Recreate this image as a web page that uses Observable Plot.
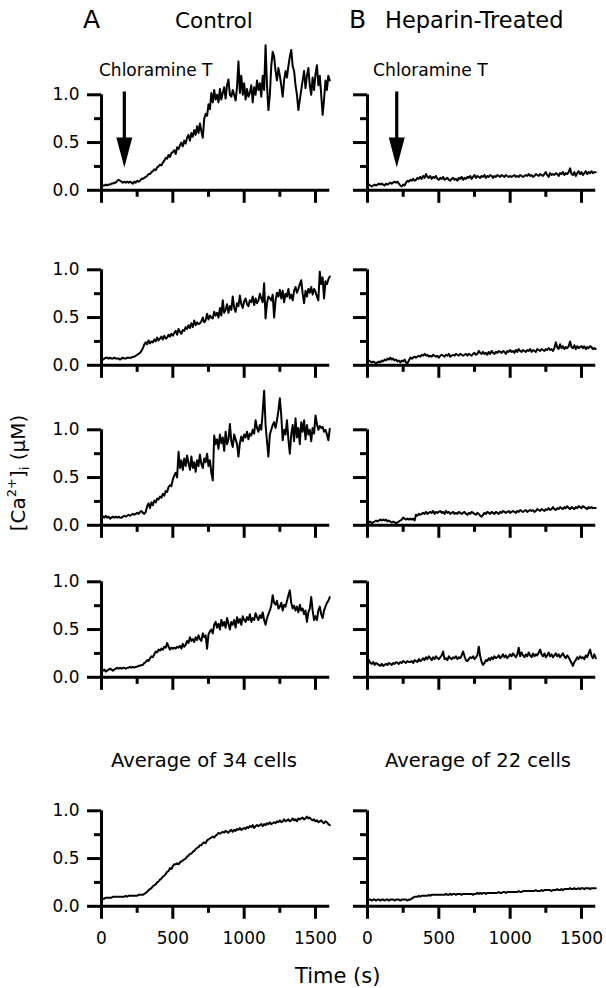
<!DOCTYPE html>
<html>
<head>
<meta charset="utf-8">
<script src="https://cdn.jsdelivr.net/npm/d3@7"></script>
<script src="https://cdn.jsdelivr.net/npm/@observablehq/plot@0.6"></script>
<style>
  body { margin: 0; background: #fff; }
  #fig { position: relative; width: 606px; height: 988px; overflow: hidden; background: #fff; font-family: "DejaVu Sans", sans-serif; color: #000; }
  #fig svg.plotpanel { position: absolute; overflow: visible; background: transparent; }
  #overlay { position: absolute; left: 0; top: 0; pointer-events: none; }
</style>
</head>
<body>
<div id="fig"></div>
<script>
// ---------------- DATA ----------------
const sampleStep = 10;            // seconds between samples (0 … 1600 s)
const xTicksMajor = [0, 500, 1000, 1500];
const xTicksMinor = [250, 750, 1250];
const yTicksMajor = [0, 0.5, 1.0];
const yTicksMinor = [0.25, 0.75];

const columnTitles = ["Control", "Heparin-Treated"];
const columnLetters = ["A", "B"];
const averageTitles = ["Average of 34 cells", "Average of 22 cells"];
const stimulusLabel = "Chloramine T";
const stimulusTime = [160, 205];      // s, arrow position per column
const stimulusArrowTip = 0.24;        // µM, arrow tip level

// Control (A) single cells, [Ca2+]i in µM
const ctrlCell1 = [
 0.04,0.05,0.05,0.06,0.05,0.06,0.06,0.07,0.07,0.08,0.08,
 0.10,0.11,0.10,0.09,0.08,0.09,0.08,0.09,0.08,0.09,
 0.08,0.07,0.09,0.08,0.10,0.09,0.10,0.12,0.12,0.13,
 0.14,0.15,0.17,0.17,0.19,0.20,0.22,0.21,0.24,0.25,
 0.27,0.26,0.29,0.31,0.34,0.33,0.37,0.35,0.39,0.40,
 0.42,0.38,0.45,0.43,0.47,0.50,0.46,0.52,0.49,0.55,
 0.58,0.52,0.60,0.56,0.63,0.58,0.67,0.60,0.70,0.62,
 0.55,0.75,0.80,0.78,0.90,0.85,1.02,0.92,1.05,0.95,
 1.00,0.92,1.06,0.95,1.02,1.08,0.96,1.10,1.16,1.00,
 0.98,1.05,1.00,0.94,1.08,1.35,1.02,1.20,1.00,1.12,
 0.95,1.06,0.98,1.02,1.10,0.92,1.08,1.00,1.15,1.05,
 1.12,0.98,1.20,1.05,1.52,1.10,0.84,1.00,1.30,1.45,
 1.40,1.25,1.15,1.28,1.20,1.10,0.98,1.15,1.25,1.18,
 1.30,1.40,1.47,1.30,1.25,1.10,1.00,0.84,0.95,1.05,
 1.15,1.25,1.07,1.20,1.28,1.10,1.00,1.18,1.05,1.22,
 1.31,1.10,1.20,1.00,0.79,0.95,1.15,1.05,1.20,1.15
];
const ctrlCell2 = [
 0.05,0.06,0.07,0.08,0.08,0.07,0.08,0.07,0.07,0.08,0.07,
 0.07,0.07,0.06,0.07,0.08,0.07,0.07,0.08,0.08,0.08,
 0.08,0.09,0.09,0.10,0.11,0.12,0.13,0.15,0.18,0.22,
 0.24,0.22,0.26,0.23,0.25,0.24,0.27,0.25,0.29,0.26,
 0.28,0.30,0.27,0.31,0.28,0.29,0.32,0.30,0.33,0.31,
 0.34,0.36,0.32,0.38,0.35,0.33,0.37,0.36,0.40,0.38,
 0.42,0.39,0.44,0.40,0.47,0.42,0.45,0.43,0.44,0.46,
 0.50,0.45,0.47,0.54,0.48,0.52,0.50,0.49,0.56,0.52,
 0.55,0.50,0.60,0.52,0.68,0.55,0.58,0.64,0.55,0.62,
 0.58,0.72,0.60,0.56,0.65,0.62,0.73,0.64,0.60,0.67,
 0.70,0.64,0.62,0.68,0.66,0.72,0.63,0.70,0.65,0.68,
 0.75,0.70,0.66,0.86,0.49,0.65,0.72,0.70,0.68,0.74,
 0.50,0.68,0.76,0.72,0.79,0.70,0.78,0.66,0.75,0.72,
 0.80,0.70,0.74,0.68,0.78,0.82,0.76,0.80,0.85,0.89,
 0.75,0.65,0.78,0.72,0.80,0.76,0.82,0.74,0.80,0.77,
 0.72,0.68,0.98,0.85,0.92,0.70,0.88,0.85,0.90,0.93
];
const ctrlCell3 = [
 0.12,0.09,0.08,0.10,0.08,0.09,0.07,0.08,0.09,0.08,0.09,
 0.08,0.09,0.08,0.08,0.09,0.10,0.09,0.10,0.11,0.10,
 0.11,0.12,0.11,0.12,0.13,0.12,0.14,0.15,0.13,0.12,
 0.14,0.20,0.23,0.18,0.24,0.21,0.26,0.24,0.28,0.27,
 0.30,0.29,0.33,0.31,0.36,0.35,0.40,0.42,0.41,0.48,
 0.52,0.55,0.50,0.77,0.60,0.68,0.58,0.70,0.62,0.73,
 0.65,0.58,0.72,0.60,0.66,0.56,0.68,0.62,0.74,0.64,
 0.60,0.70,0.66,0.75,0.62,0.68,0.55,0.47,0.94,0.85,
 0.90,0.80,0.95,0.86,0.92,0.78,0.98,0.85,0.90,1.06,
 0.88,0.82,0.95,0.90,0.85,0.72,0.86,0.93,0.88,0.95,
 0.92,0.98,0.90,0.96,0.94,1.00,0.96,1.10,1.02,0.98,
 1.05,1.00,1.19,1.41,1.05,0.88,0.72,0.95,1.00,1.05,
 1.08,1.02,1.10,1.20,1.33,1.15,0.89,1.00,0.95,1.10,
 0.90,0.75,0.95,1.05,0.88,1.12,0.92,1.02,0.85,1.08,
 0.98,1.10,0.90,1.05,0.95,1.00,0.88,1.02,0.96,1.15,
 1.06,1.00,1.04,1.02,1.03,0.98,1.00,0.95,0.89,1.01
];
const ctrlCell4 = [
 0.08,0.07,0.08,0.06,0.07,0.08,0.09,0.08,0.07,0.08,0.09,
 0.10,0.09,0.10,0.09,0.10,0.10,0.09,0.10,0.10,0.11,
 0.10,0.11,0.10,0.11,0.11,0.12,0.12,0.13,0.13,0.15,
 0.16,0.18,0.17,0.20,0.22,0.21,0.24,0.27,0.26,0.29,
 0.28,0.30,0.29,0.32,0.31,0.36,0.32,0.29,0.31,0.30,
 0.31,0.30,0.32,0.31,0.33,0.30,0.35,0.32,0.34,0.38,
 0.36,0.42,0.38,0.40,0.37,0.42,0.39,0.44,0.40,0.38,
 0.46,0.42,0.44,0.30,0.45,0.48,0.50,0.46,0.55,0.58,
 0.52,0.56,0.50,0.60,0.54,0.58,0.52,0.62,0.56,0.50,
 0.58,0.55,0.60,0.52,0.63,0.57,0.61,0.55,0.64,0.60,
 0.58,0.63,0.60,0.66,0.58,0.62,0.60,0.67,0.63,0.60,
 0.65,0.62,0.68,0.60,0.55,0.62,0.66,0.70,0.75,0.86,
 0.78,0.76,0.80,0.72,0.74,0.78,0.70,0.76,0.74,0.80,
 0.86,0.91,0.78,0.72,0.75,0.70,0.74,0.68,0.76,0.70,
 0.72,0.66,0.70,0.58,0.68,0.72,0.84,0.70,0.60,0.64,
 0.60,0.70,0.74,0.66,0.62,0.70,0.74,0.78,0.80,0.84
];
const ctrlAverage = [
 0.08,0.08,0.08,0.09,0.09,0.09,0.09,0.09,0.10,0.10,0.10,
 0.10,0.10,0.10,0.10,0.10,0.10,0.11,0.10,0.11,0.11,
 0.11,0.11,0.11,0.11,0.11,0.12,0.12,0.12,0.12,0.13,
 0.14,0.15,0.17,0.18,0.19,0.21,0.22,0.23,0.25,0.26,
 0.28,0.29,0.31,0.32,0.34,0.36,0.37,0.40,0.39,0.42,
 0.44,0.44,0.45,0.44,0.46,0.47,0.48,0.49,0.50,0.52,
 0.53,0.55,0.55,0.57,0.58,0.60,0.61,0.62,0.64,0.64,
 0.66,0.67,0.66,0.69,0.70,0.71,0.72,0.73,0.72,0.74,
 0.75,0.77,0.76,0.77,0.78,0.77,0.79,0.78,0.77,0.79,
 0.80,0.78,0.80,0.79,0.81,0.80,0.82,0.80,0.81,0.82,
 0.81,0.83,0.82,0.84,0.83,0.85,0.82,0.84,0.85,0.84,
 0.85,0.86,0.84,0.86,0.85,0.87,0.86,0.88,0.86,0.87,
 0.88,0.87,0.89,0.88,0.90,0.88,0.89,0.91,0.89,0.90,
 0.91,0.89,0.90,0.92,0.90,0.91,0.89,0.92,0.91,0.92,
 0.93,0.91,0.92,0.94,0.92,0.93,0.91,0.90,0.91,0.89,
 0.90,0.88,0.89,0.90,0.88,0.87,0.89,0.88,0.86,0.85
];

// Heparin-treated (B) single cells
const hepCell1 = [
 0.05,0.06,0.05,0.04,0.05,0.06,0.05,0.06,0.07,0.06,0.07,
 0.06,0.05,0.07,0.06,0.07,0.08,0.07,0.08,0.09,0.08,
 0.09,0.07,0.05,0.04,0.06,0.05,0.08,0.10,0.09,0.11,
 0.10,0.12,0.10,0.11,0.13,0.12,0.14,0.12,0.15,0.13,
 0.17,0.14,0.13,0.15,0.12,0.14,0.13,0.15,0.12,0.11,
 0.13,0.12,0.14,0.11,0.12,0.13,0.11,0.10,0.12,0.13,
 0.11,0.12,0.10,0.13,0.12,0.14,0.11,0.13,0.12,0.14,
 0.13,0.15,0.12,0.14,0.16,0.13,0.15,0.14,0.13,0.15,
 0.14,0.16,0.13,0.15,0.14,0.16,0.15,0.13,0.15,0.14,
 0.16,0.15,0.14,0.16,0.15,0.14,0.16,0.15,0.14,0.15,
 0.14,0.15,0.16,0.14,0.15,0.14,0.16,0.15,0.14,0.15,
 0.16,0.15,0.17,0.15,0.16,0.14,0.15,0.17,0.16,0.15,
 0.17,0.16,0.15,0.17,0.19,0.16,0.14,0.18,0.16,0.17,
 0.16,0.18,0.17,0.15,0.18,0.17,0.19,0.16,0.18,0.17,
 0.19,0.23,0.17,0.16,0.19,0.15,0.18,0.20,0.17,0.19,
 0.16,0.18,0.20,0.17,0.19,0.18,0.20,0.18,0.19,0.19
];
const hepCell2 = [
 0.04,0.05,0.04,0.03,0.04,0.03,0.02,0.03,0.04,0.03,0.05,
 0.04,0.06,0.05,0.07,0.06,0.08,0.06,0.07,0.05,0.06,
 0.04,0.05,0.03,0.05,0.04,0.06,0.03,0.02,0.05,0.08,
 0.07,0.08,0.09,0.08,0.09,0.10,0.09,0.11,0.10,0.12,
 0.10,0.11,0.09,0.10,0.09,0.11,0.10,0.09,0.10,0.08,
 0.10,0.11,0.10,0.09,0.11,0.10,0.12,0.09,0.10,0.11,
 0.10,0.12,0.11,0.10,0.12,0.11,0.10,0.11,0.12,0.10,
 0.12,0.11,0.10,0.12,0.13,0.11,0.12,0.15,0.13,0.12,
 0.14,0.12,0.13,0.11,0.14,0.12,0.15,0.13,0.12,0.14,
 0.13,0.15,0.14,0.13,0.15,0.14,0.12,0.15,0.14,0.16,
 0.14,0.15,0.13,0.16,0.14,0.17,0.15,0.14,0.16,0.15,
 0.14,0.16,0.15,0.17,0.14,0.16,0.15,0.14,0.17,0.16,
 0.15,0.17,0.16,0.15,0.17,0.16,0.18,0.16,0.17,0.15,
 0.18,0.24,0.19,0.17,0.22,0.18,0.20,0.17,0.19,0.18,
 0.20,0.25,0.19,0.18,0.21,0.17,0.20,0.18,0.19,0.20,
 0.18,0.20,0.17,0.19,0.18,0.20,0.19,0.17,0.18,0.17
];
const hepCell3 = [
 0.04,0.03,0.04,0.02,0.03,0.04,0.05,0.04,0.05,0.06,0.05,
 0.06,0.05,0.06,0.04,0.05,0.04,0.03,0.04,0.03,0.02,
 0.03,0.04,0.05,0.06,0.08,0.07,0.06,0.07,0.06,0.07,
 0.06,0.07,0.05,0.11,0.10,0.12,0.11,0.12,0.13,0.12,
 0.14,0.12,0.13,0.14,0.13,0.15,0.12,0.14,0.13,0.14,
 0.15,0.13,0.14,0.12,0.15,0.13,0.14,0.12,0.13,0.14,
 0.12,0.13,0.12,0.14,0.13,0.12,0.13,0.14,0.12,0.11,
 0.13,0.12,0.14,0.13,0.12,0.11,0.13,0.12,0.10,0.09,
 0.11,0.13,0.12,0.14,0.13,0.12,0.14,0.13,0.12,0.14,
 0.13,0.12,0.14,0.13,0.15,0.14,0.13,0.14,0.15,0.13,
 0.14,0.15,0.14,0.13,0.15,0.14,0.16,0.15,0.14,0.15,
 0.16,0.14,0.15,0.16,0.15,0.16,0.14,0.15,0.17,0.16,
 0.15,0.17,0.16,0.15,0.17,0.16,0.18,0.16,0.17,0.19,
 0.17,0.16,0.18,0.17,0.19,0.18,0.17,0.19,0.18,0.20,
 0.18,0.17,0.19,0.18,0.17,0.19,0.18,0.20,0.19,0.18,
 0.20,0.19,0.18,0.17,0.19,0.18,0.19,0.18,0.18,0.18
];
const hepCell4 = [
 0.16,0.18,0.15,0.14,0.16,0.13,0.15,0.14,0.13,0.12,0.14,
 0.12,0.13,0.14,0.13,0.15,0.14,0.13,0.15,0.14,0.16,
 0.15,0.14,0.16,0.15,0.17,0.16,0.15,0.17,0.16,0.16,
 0.17,0.15,0.18,0.17,0.16,0.19,0.17,0.18,0.20,0.18,
 0.21,0.19,0.22,0.20,0.18,0.21,0.19,0.22,0.20,0.19,
 0.21,0.23,0.27,0.19,0.20,0.18,0.22,0.20,0.19,0.21,
 0.20,0.22,0.19,0.21,0.20,0.23,0.27,0.22,0.18,0.17,
 0.19,0.21,0.20,0.22,0.19,0.21,0.23,0.32,0.22,0.16,
 0.13,0.15,0.18,0.17,0.20,0.18,0.21,0.19,0.22,0.20,
 0.21,0.23,0.20,0.22,0.24,0.21,0.23,0.20,0.22,0.24,
 0.22,0.25,0.23,0.21,0.24,0.31,0.22,0.26,0.23,0.21,
 0.24,0.22,0.26,0.23,0.21,0.25,0.22,0.24,0.23,0.26,
 0.29,0.24,0.22,0.25,0.21,0.23,0.26,0.22,0.24,0.21,
 0.23,0.25,0.22,0.24,0.21,0.23,0.25,0.22,0.20,0.23,
 0.21,0.18,0.15,0.12,0.16,0.18,0.21,0.19,0.22,0.20,
 0.21,0.19,0.23,0.21,0.25,0.29,0.23,0.20,0.24,0.20
];
const hepAverage = [
 0.07,0.07,0.07,0.06,0.07,0.07,0.06,0.07,0.07,0.06,0.07,
 0.07,0.06,0.07,0.07,0.06,0.07,0.07,0.07,0.06,0.07,
 0.07,0.07,0.06,0.07,0.07,0.07,0.07,0.06,0.07,0.07,
 0.08,0.09,0.10,0.10,0.10,0.11,0.10,0.11,0.11,0.11,
 0.11,0.11,0.12,0.11,0.12,0.12,0.12,0.12,0.12,0.12,
 0.12,0.12,0.12,0.12,0.13,0.12,0.12,0.13,0.12,0.13,
 0.13,0.12,0.13,0.13,0.13,0.12,0.13,0.13,0.13,0.13,
 0.13,0.13,0.13,0.12,0.13,0.13,0.14,0.13,0.14,0.13,
 0.14,0.14,0.13,0.14,0.14,0.14,0.14,0.14,0.14,0.14,
 0.14,0.15,0.14,0.14,0.15,0.15,0.14,0.15,0.15,0.15,
 0.15,0.15,0.15,0.15,0.15,0.16,0.15,0.15,0.16,0.16,
 0.16,0.16,0.16,0.16,0.16,0.16,0.16,0.17,0.16,0.16,
 0.16,0.17,0.16,0.17,0.17,0.17,0.17,0.17,0.16,0.17,
 0.17,0.17,0.18,0.17,0.17,0.18,0.17,0.18,0.18,0.18,
 0.18,0.19,0.18,0.18,0.19,0.18,0.18,0.19,0.18,0.19,
 0.19,0.18,0.19,0.19,0.19,0.18,0.19,0.19,0.19,0.19
];

const columns = [
  [ctrlCell1, ctrlCell2, ctrlCell3, ctrlCell4, ctrlAverage],
  [hepCell1, hepCell2, hepCell3, hepCell4, hepAverage]
];

// ---------------- LAYOUT ----------------
const fig = document.getElementById("fig");
const FONT = "DejaVu Sans";
const pxPerSecond = 214 / 1500;
const pxPerUnit = 95.5;
const yMaxShown = 1.6;
const xOrigin = [101, 367];                       // pixel x of t = 0 per column
const yOrigin = [[190, 365, 525, 677, 906],       // pixel y of 0 µM per row
                 [189.5, 364.5, 524.5, 676.5, 905.5]];

const arrowShape = {
  draw(ctx) {
    const L = 76, H = 30, hw = 8, sw = 1.6;
    ctx.moveTo(0, 0);
    ctx.lineTo(-hw, -H);
    ctx.lineTo(-sw, -H);
    ctx.lineTo(-sw, -L);
    ctx.lineTo(sw, -L);
    ctx.lineTo(sw, -H);
    ctx.lineTo(hw, -H);
    ctx.closePath();
  }
};

function makePanel(values, col, row) {
  const ML = col === 0 ? 62 : 22;
  const MT = 4;
  const MB = row === 4 ? 50 : 20;
  const plotW = 1600 * pxPerSecond;
  const plotH = yMaxShown * pxPerUnit;
  const width = ML + plotW + 8;
  const height = MT + plotH + MB;
  const data = values.map((v, i) => ({t: i * sampleStep, v}));
  const marks = [
    Plot.ruleY([0], {x1: 0, x2: 1600, strokeWidth: 3}),
    Plot.ruleX([0], {y1: 0, y2: 1, strokeWidth: 3}),
    Plot.axisY({ticks: yTicksMajor, tickSize: 14, tickPadding: 8, strokeWidth: 3,
      fontSize: 17, tickFormat: (d) => d.toFixed(1), fill: col === 0 ? "black" : "none", label: null}),
    Plot.axisY({ticks: yTicksMinor, tickSize: 7, strokeWidth: 3, fill: "none", label: null}),
    Plot.axisX({ticks: xTicksMajor, tickSize: 13, tickPadding: 13, strokeWidth: 3,
      fontSize: 17, tickFormat: (d) => String(d), fill: row === 4 ? "black" : "none", label: null}),
    Plot.axisX({ticks: xTicksMinor, tickSize: 7, strokeWidth: 3, fill: "none", label: null}),
    Plot.line(data, {x: "t", y: "v", stroke: "black", strokeWidth: 2})
  ];
  if (row === 0) {
    marks.push(Plot.dot([{t: stimulusTime[col], v: stimulusArrowTip}],
      {x: "t", y: "v", symbol: arrowShape, r: 5, fill: "black", stroke: "none"}));
  }
  const svg = Plot.plot({
    width, height,
    marginLeft: ML, marginRight: 8, marginTop: MT, marginBottom: MB,
    x: {domain: [0, 1600], range: [ML, ML + plotW], label: null},
    y: {domain: [0, yMaxShown], range: [MT + plotH, MT], label: null},
    style: {fontFamily: FONT, background: "transparent", color: "black", overflow: "visible"},
    marks
  });
  svg.classList.add("plotpanel");
  svg.style.left = (xOrigin[col] - ML) + "px";
  svg.style.top = (yOrigin[col][row] - MT - plotH) + "px";
  svg.style.maxWidth = "none";
  fig.appendChild(svg);
}

columns.forEach((series, col) => series.forEach((values, row) => makePanel(values, col, row)));

// ---------------- TEXT OVERLAY ----------------
const ov = d3.select(fig).append("svg").attr("id", "overlay")
  .attr("width", 606).attr("height", 988)
  .style("font-family", FONT);

function label(txt, x, y, size, anchor = "start") {
  ov.append("text").attr("x", x).attr("y", y).attr("font-size", size)
    .attr("text-anchor", anchor).attr("fill", "black").text(txt);
}
label(columnLetters[0], 83, 28, 25);
label(columnTitles[0], 175, 28, 21.5);
label(columnLetters[1], 349, 28, 25);
label(columnTitles[1], 385, 28, 22.5);
label(stimulusLabel, 99, 76, 17);
label(stimulusLabel, 373, 76, 17.2);
label(averageTitles[0], 111, 767, 19.5);
label(averageTitles[1], 385, 767, 19.5);
label("Time (s)", 295, 983, 21);

const yl = ov.append("text")
  .attr("transform", "translate(25,473) rotate(-90)")
  .attr("text-anchor", "middle").attr("font-size", 20).attr("fill", "black");
yl.append("tspan").text("[Ca");
yl.append("tspan").attr("font-size", 13).attr("dy", -9).text("2+");
yl.append("tspan").attr("dy", 9).text("]");
yl.append("tspan").attr("font-size", 13).attr("dy", 4).text("i");
yl.append("tspan").attr("dy", -4).text(" (\u03BCM)");
</script>
</body>
</html>
